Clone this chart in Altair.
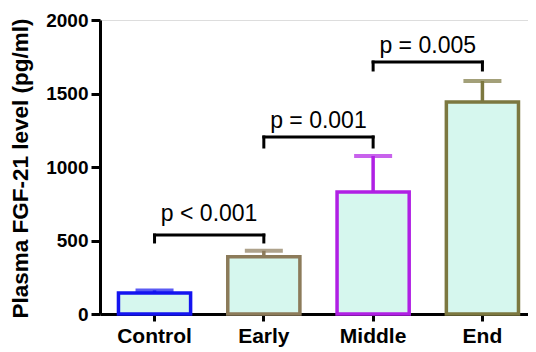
import altair as alt
import pandas as pd

groups = ["Control", "Early", "Middle", "End"]
means = [143, 390, 830, 1442]
upper = [160, 430, 1075, 1585]
stroke_colors = ["#1414f0", "#8c7b5a", "#b020e4", "#7c7840"]

bracket_from = ["Control", "Early", "Middle"]
bracket_to = ["Early", "Middle", "End"]
bracket_y = [537, 1204, 1714]
bracket_tick = [490, 1136, 1660]
p_labels = ["p < 0.001", "p = 0.001", "p = 0.005"]
label_y = [630, 1262, 1778]

bars = pd.DataFrame({"group": groups, "mean": means, "upper": upper})
br = pd.DataFrame({"from": bracket_from, "to": bracket_to, "y": bracket_y,
                   "yt": bracket_tick, "label": p_labels, "ly": label_y})

FONT = "Liberation Sans"
xscale = alt.Scale(domain=groups, paddingInner=0.34, paddingOuter=0.128, align=0.66)
yscale = alt.Scale(domain=[0, 2000], nice=False)
sscale = alt.Scale(domain=groups, range=stroke_colors)

xaxis = alt.Axis(title=None, labelAngle=0, labelFontSize=21, labelFont=FONT,
                 labelFontWeight="bold", labelColor="black", tickSize=7,
                 labelPadding=4, domainWidth=3, tickWidth=3,
                 domainColor="black", tickColor="black")
yaxis = alt.Axis(title="Plasma FGF-21 level (pg/ml)", values=[0, 500, 1000, 1500, 2000],
                 format="d",
                 grid=False, labelFontSize=19, labelFont=FONT, labelFontWeight="bold",
                 labelColor="black", tickSize=9, labelPadding=3, domainWidth=3,
                 tickWidth=3, domainColor="black", tickColor="black",
                 titleFont=FONT, titleFontSize=22.5, titleFontWeight="bold",
                 titleColor="black", titleX=-80, titleY=148, titleAngle=-90,
                 titleAlign="center", titleBaseline="middle")

base = alt.Chart(bars)
bar = base.mark_bar(fill="#d6f7ee", strokeWidth=3.5).encode(
    x=alt.X("group:N", scale=xscale, axis=xaxis, sort=groups),
    y=alt.Y("mean:Q", scale=yscale, axis=yaxis),
    stroke=alt.Stroke("group:N", scale=sscale, legend=None),
)
err = base.mark_rule(strokeWidth=3.5).encode(
    x=alt.X("group:N", scale=xscale, sort=groups),
    y=alt.Y("mean:Q", scale=yscale),
    y2="upper:Q",
    stroke=alt.Stroke("group:N", scale=sscale, legend=None),
)
cap = base.mark_tick(thickness=4, size=38).encode(
    x=alt.X("group:N", scale=xscale, sort=groups),
    y=alt.Y("upper:Q", scale=yscale),
    color=alt.Color("group:N", scale=sscale, legend=None),
)

bc = alt.Chart(br)
hline = bc.mark_rule(color="black", strokeWidth=3, strokeCap="square").encode(
    x=alt.X("from:N", scale=xscale), x2="to:N", y=alt.Y("y:Q", scale=yscale))
lt = bc.mark_rule(color="black", strokeWidth=3, strokeCap="square").encode(
    x=alt.X("from:N", scale=xscale), y=alt.Y("y:Q", scale=yscale), y2="yt:Q")
rt = bc.mark_rule(color="black", strokeWidth=3, strokeCap="square").encode(
    x=alt.X("to:N", scale=xscale), y=alt.Y("y:Q", scale=yscale), y2="yt:Q")
txt = bc.mark_text(font=FONT, fontSize=23, color="black", dx=54.6,
                   baseline="alphabetic", align="center").encode(
    x=alt.X("from:N", scale=xscale), y=alt.Y("ly:Q", scale=yscale), text="label:N")

chart = alt.layer(bar, err, cap, hline, lt, rt, txt).properties(
    width=428, height=294,
    autosize=alt.AutoSizeParams(type="none"),
    padding={"left": 92, "top": 12, "right": 0, "bottom": 38},
).configure_view(stroke=None).configure(background="white")

chart.save("out.html", embed_options={"renderer": "svg", "actions": False})
